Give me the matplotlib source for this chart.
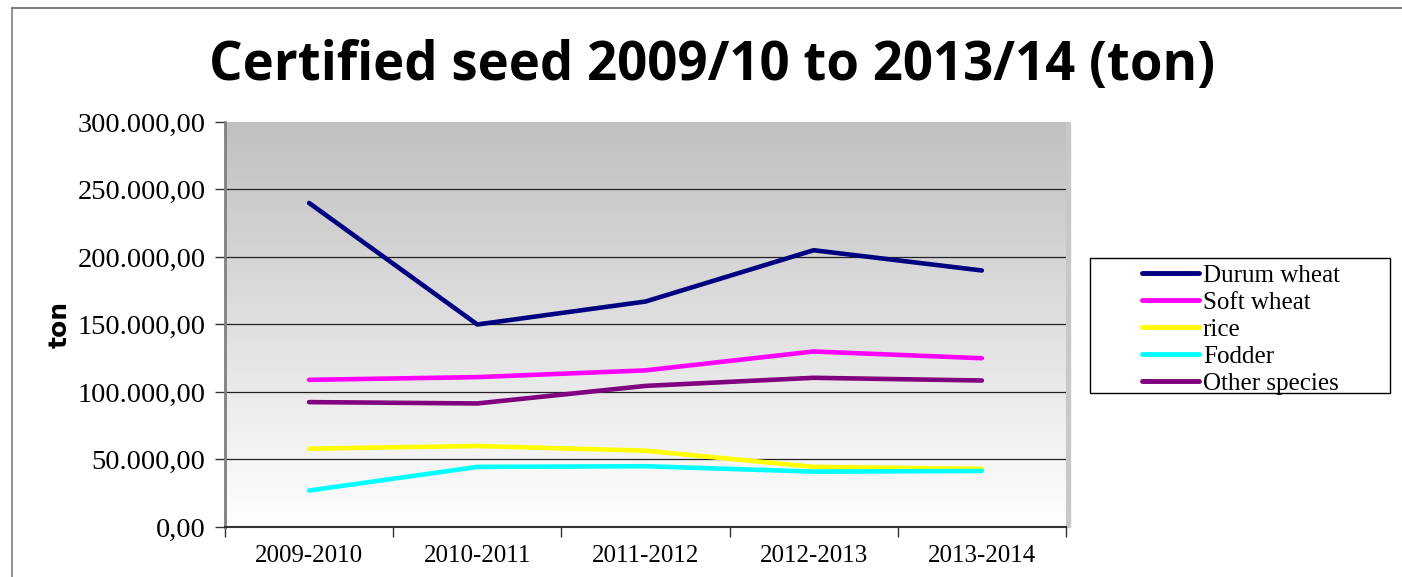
import numpy as np
import matplotlib
matplotlib.use("Agg")
import matplotlib.pyplot as plt
from matplotlib.ticker import FuncFormatter, FixedLocator
from matplotlib.patches import Rectangle
from matplotlib.lines import Line2D

seasons = ["2009-2010", "2010-2011", "2011-2012", "2012-2013", "2013-2014"]
durum_wheat = [240000, 150000, 167000, 205000, 190000]
soft_wheat = [109000, 111000, 116000, 130000, 125000]
rice = [58000, 60000, 56500, 44500, 43000]
fodder = [27000, 44500, 45000, 41000, 41500]
other_species = [92500, 91500, 104500, 110500, 108500]

series = [
    ("Durum wheat", durum_wheat, "#000080"),
    ("Soft wheat", soft_wheat, "#ff00ff"),
    ("rice", rice, "#ffff00"),
    ("Fodder", fodder, "#00ffff"),
    ("Other species", other_species, "#800080"),
]

serif = "Liberation Serif"

fig = plt.figure(figsize=(14.02, 5.77), dpi=100)
ax = fig.add_axes([0.1605, 0.0867, 0.5998, 0.7019])

# outer chart frame (only left and top edges visible)
fig.add_artist(Line2D([12 / 1402, 12 / 1402], [0, 1 - 8 / 577], color="#7f7f7f", lw=1.2))
fig.add_artist(Line2D([12 / 1402, 1], [1 - 8 / 577, 1 - 8 / 577], color="#7f7f7f", lw=1.5))

# gradient plot area
grad = np.linspace(0, 1, 256).reshape(-1, 1)
ax.imshow(grad, extent=[0, 1, 0, 1], transform=ax.transAxes, aspect="auto",
          cmap=matplotlib.colors.LinearSegmentedColormap.from_list("g", ["#ffffff", "#c0c0c0"]),
          origin="lower", zorder=0)
# shadow on the right of the plot area
fig.add_artist(Rectangle((1066 / 1402, 50 / 577), 4 / 1402, 405 / 577,
                         transform=fig.transFigure, color="#c8c8c8", zorder=0))

x = np.arange(len(seasons))
for name, vals, col in series:
    ax.plot(x, vals, color=col, lw=3.3, solid_capstyle="round", label=name, zorder=3)

ax.set_xlim(-0.5, len(seasons) - 0.5)
ax.set_ylim(0, 300000)
ax.set_yticks(np.arange(0, 300001, 50000))
ax.yaxis.set_major_formatter(FuncFormatter(
    lambda v, p: f"{v:,.2f}".replace(",", "X").replace(".", ",").replace("X", ".")))
ax.set_xticks(x)
ax.set_xticklabels(seasons, fontfamily=serif, fontsize=18)
ax.xaxis.set_minor_locator(FixedLocator(np.arange(-0.5, len(seasons), 1.0)))
ax.tick_params(axis="x", which="major", length=0, pad=13)
ax.tick_params(axis="x", which="minor", length=7, width=1, color="#333333", direction="out")
ax.tick_params(axis="y", length=7, width=1, color="#333333", direction="out", pad=7)
for lab in ax.get_yticklabels():
    lab.set_fontfamily(serif)
    lab.set_fontsize(20.5)

ax.grid(axis="y", color="#222222", lw=0.9, zorder=1)
ax.yaxis.get_gridlines()[-1].set_visible(False)
ax.set_axisbelow(True)
for s in ["top", "right"]:
    ax.spines[s].set_visible(False)
ax.spines["left"].set_color("#808080")
ax.spines["left"].set_linewidth(2)
ax.spines["bottom"].set_color("#333333")
ax.spines["bottom"].set_linewidth(1.5)

ax.set_ylabel("ton", fontsize=18, fontweight="bold", fontfamily="DejaVu Sans", labelpad=4)

fig.text(0.508, 0.885, "Certified seed 2009/10 to 2013/14 (ton)", ha="center", va="center",
         fontsize=38, fontweight="bold", fontfamily="Open Sans")

# legend
fig.add_artist(Rectangle((1090 / 1402, 1 - 393 / 577), 300 / 1402, 135 / 577,
                         transform=fig.transFigure, fill=False, ec="black", lw=1))
leg = fig.legend(loc="upper left", bbox_to_anchor=(1129 / 1402, 1 - 252 / 577),
                 frameon=False, prop={"family": serif, "size": 18},
                 handlelength=2.3, handletextpad=0.15, labelspacing=0.18, borderpad=0)
for h in leg.get_lines():
    h.set_linewidth(3.5)
    h.set_solid_capstyle("round")

fig.savefig("out.png", dpi=100)
